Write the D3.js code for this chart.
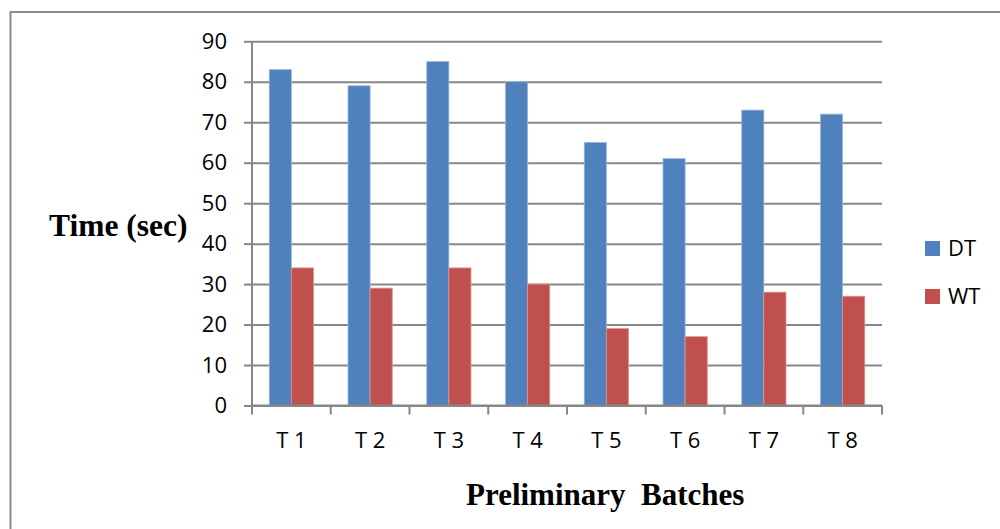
<!DOCTYPE html>
<html>
<head>
<meta charset="utf-8">
<script src="https://cdn.jsdelivr.net/npm/d3@7"></script>
<style>
  html, body { margin: 0; padding: 0; background: #fff; }
  svg { display: block; }
</style>
</head>
<body>
<script>
// Disintegration time (DT) and wetting time (WT) for the preliminary batches
const categories = ["T 1", "T 2", "T 3", "T 4", "T 5", "T 6", "T 7", "T 8"];
const seriesNames = ["DT", "WT"];
const dtValues = [83, 79, 85, 80, 65, 61, 73, 72];
const wtValues = [34, 29, 34, 30, 19, 17, 28, 27];
const yTicks = [0, 10, 20, 30, 40, 50, 60, 70, 80, 90];
const colors = { DT: "#4F81BD", WT: "#C0504D" };
const strokes = { DT: "#9ab8dc", WT: "#dc9290" };

const W = 1000, H = 529;
const plot = { left: 252, right: 882, top: 41.3, bottom: 405.5 };
const gridColor = "#878787";
const tickFont = "'Open Sans', sans-serif";

const svg = d3.select("body").append("svg")
  .attr("width", W).attr("height", H);

// outer frame
svg.append("rect")
  .attr("x", 10.5).attr("y", 12)
  .attr("width", 1000).attr("height", 600)
  .attr("fill", "none").attr("stroke", "#8c8c8c").attr("stroke-width", 2);

const x0 = d3.scaleBand().domain(categories)
  .range([plot.left, plot.right]).paddingInner(0).paddingOuter(0);
const x1 = d3.scaleBand().domain(seriesNames)
  .range([0, x0.bandwidth()]).paddingInner(0).paddingOuter(0.78);
const y = d3.scaleLinear().domain([0, 90]).range([plot.bottom, plot.top]);

// horizontal gridlines with left tick stubs
const yAxis = svg.append("g")
  .attr("transform", `translate(${plot.left},0)`)
  .call(d3.axisLeft(y).tickValues(yTicks).tickSize(8).tickPadding(17));
yAxis.select(".domain").remove();
yAxis.selectAll(".tick line").attr("stroke", gridColor).attr("stroke-width", 2);
yAxis.selectAll(".tick text")
  .attr("font-family", tickFont).attr("font-size", 22).attr("fill", "#000");
yAxis.selectAll(".tick").append("line")
  .attr("x1", 0).attr("x2", plot.right - plot.left)
  .attr("stroke", gridColor).attr("stroke-width", 2);

// vertical axis line
svg.append("line")
  .attr("x1", plot.left).attr("x2", plot.left)
  .attr("y1", plot.top).attr("y2", plot.bottom)
  .attr("stroke", gridColor).attr("stroke-width", 2);

// bars
const rows = categories.map((c, i) => ({ cat: c, DT: dtValues[i], WT: wtValues[i] }));
const groups = svg.append("g").selectAll("g")
  .data(rows).join("g")
  .attr("transform", d => `translate(${x0(d.cat)},0)`);
groups.selectAll("rect")
  .data(d => seriesNames.map(s => ({ s, v: d[s] })))
  .join("rect")
  .attr("x", d => x1(d.s))
  .attr("width", x1.bandwidth())
  .attr("y", d => y(d.v))
  .attr("height", d => y(0) - y(d.v))
  .attr("fill", d => colors[d.s])
  .attr("stroke", d => strokes[d.s])
  .attr("stroke-width", 0.8);

// category axis with tick marks at band boundaries
const xAxisG = svg.append("g").attr("transform", `translate(0,${plot.bottom})`);
xAxisG.append("line")
  .attr("x1", plot.left).attr("x2", plot.right)
  .attr("stroke", gridColor).attr("stroke-width", 2);
const boundaries = categories.map(c => x0(c)).concat([x0(categories[categories.length - 1]) + x0.bandwidth()]);
xAxisG.selectAll("line.tk").data(boundaries).join("line")
  .attr("class", "tk")
  .attr("x1", d => d).attr("x2", d => d)
  .attr("y1", 0).attr("y2", 9)
  .attr("stroke", gridColor).attr("stroke-width", 2);
xAxisG.selectAll("text").data(categories).join("text")
  .attr("x", d => x0(d) + x0.bandwidth() / 2)
  .attr("y", 35)
  .attr("dy", "0.35em")
  .attr("text-anchor", "middle")
  .attr("font-family", tickFont).attr("font-size", 22)
  .text(d => d);

// axis titles
svg.append("text")
  .attr("x", 49).attr("y", 236)
  .attr("font-family", "'Liberation Serif', 'Times New Roman', serif")
  .attr("font-weight", "bold").attr("font-size", 31.5)
  .text("Time (sec)");
svg.append("text")
  .attr("x", 466).attr("y", 505)
  .attr("font-family", "'Liberation Serif', 'Times New Roman', serif")
  .attr("font-weight", "bold").attr("font-size", 31)
  .attr("xml:space", "preserve").style("white-space", "pre")
  .text("Preliminary  Batches");

// legend
const legend = svg.append("g").attr("transform", "translate(925,241)");
const li = legend.selectAll("g").data(seriesNames).join("g")
  .attr("transform", (d, i) => `translate(0,${i * 48})`);
li.append("rect").attr("width", 15).attr("height", 15)
  .attr("fill", d => colors[d]);
li.append("text")
  .attr("x", 23).attr("y", 7.5).attr("dy", "0.35em")
  .attr("font-family", tickFont).attr("font-size", 22)
  .text(d => d);
</script>
</body>
</html>
